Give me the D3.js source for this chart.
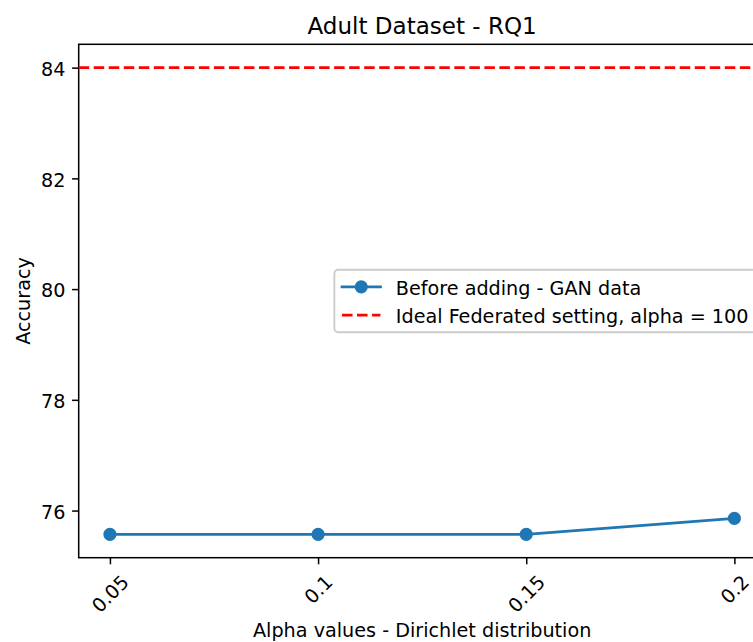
<!DOCTYPE html>
<html>
<head>
<meta charset="utf-8">
<script src="https://cdn.jsdelivr.net/npm/d3@7"></script>
<style>
  body { margin: 0; background: #fff; }
  svg { display: block; font-family: "DejaVu Sans", sans-serif; }
</style>
</head>
<body>
<svg width="753" height="642"></svg>
<script>
// values
const alphaLabels = ["0.05", "0.1", "0.15", "0.2"];
const beforeGan = [75.57, 75.57, 75.57, 75.86];
const idealAccuracy = 84;
const yTickValues = [76, 78, 80, 82, 84];
const seriesNames = ["Before adding - GAN data", "Ideal Federated setting, alpha = 100"];

const svg = d3.select("svg");
const pt = 1.89;                 // px per point in the picture
const fpt = 1.92;                // text renders a touch wider in the reference
const fs = 10 * fpt;             // tick / label font size
const plot = {left: 78.7, right: 765.6, top: 44.3, bottom: 557.7};

const x = d3.scalePoint()
    .domain(alphaLabels)
    .range([plot.left, plot.right])
    .padding(0.15);

// matplotlib style 5% margins around the data (incl. the ideal line)
const lo = d3.min(beforeGan.concat([idealAccuracy])),
    hi = d3.max(beforeGan.concat([idealAccuracy])),
    pad = (hi - lo) * 0.05;
const y = d3.scaleLinear()
    .domain([lo - pad, hi + pad])
    .range([plot.bottom, plot.top]);

// y axis
const yAxis = svg.append("g")
    .attr("transform", `translate(${plot.left},0)`)
    .call(d3.axisLeft(y).tickValues(yTickValues).tickFormat(d3.format("d"))
        .tickSize(3.5 * pt).tickPadding(3.5 * pt));
yAxis.select(".domain").remove();
yAxis.selectAll("line").attr("stroke", "#000").attr("stroke-width", 0.8 * pt);
yAxis.selectAll("text")
    .attr("font-family", "DejaVu Sans")
    .attr("font-size", fs)
    .attr("fill", "#000")
    .attr("dy", "0.4em");

// x axis
const xAxis = svg.append("g")
    .attr("transform", `translate(0,${plot.bottom})`)
    .call(d3.axisBottom(x).tickSize(3.5 * pt).tickPadding(0));
xAxis.select(".domain").remove();
xAxis.selectAll("line").attr("stroke", "#000").attr("stroke-width", 0.8 * pt);
xAxis.selectAll("text")
    .attr("font-family", "DejaVu Sans")
    .attr("font-size", fs)
    .attr("fill", "#000")
    .attr("y", null)
    .attr("dy", null)
    .attr("text-anchor", "middle")
    .attr("dominant-baseline", "central")
    .attr("transform", function () {
        const w = this.getComputedTextLength(), h = 1.164 * fs;
        const cy = 7 * pt + (w + h) * Math.SQRT1_2 / 2;
        return `translate(0,${cy}) rotate(-45)`;
    });

// frame
svg.append("rect")
    .attr("x", plot.left)
    .attr("y", plot.top)
    .attr("width", plot.right - plot.left)
    .attr("height", plot.bottom - plot.top)
    .attr("fill", "none")
    .attr("stroke", "#000")
    .attr("stroke-width", 0.8 * pt);

// ideal line
svg.append("line")
    .attr("x1", plot.left)
    .attr("x2", plot.right)
    .attr("y1", y(idealAccuracy))
    .attr("y2", y(idealAccuracy))
    .attr("stroke", "red")
    .attr("stroke-width", 1.5 * pt)
    .attr("stroke-dasharray", `${5.55 * pt},${2.4 * pt}`);

// series
const line = d3.line()
    .x((d, i) => x(alphaLabels[i]))
    .y(d => y(d));
svg.append("path")
    .datum(beforeGan)
    .attr("d", line)
    .attr("fill", "none")
    .attr("stroke", "#1f77b4")
    .attr("stroke-width", 1.5 * pt)
    .attr("stroke-linejoin", "round");
svg.append("g").selectAll("circle")
    .data(beforeGan)
    .join("circle")
    .attr("cx", (d, i) => x(alphaLabels[i]))
    .attr("cy", d => y(d))
    .attr("r", 3 * pt)
    .attr("fill", "#1f77b4")
    .attr("stroke", "#1f77b4")
    .attr("stroke-width", 1 * pt);

// title and axis labels
svg.append("text")
    .attr("x", (plot.left + plot.right) / 2)
    .attr("y", plot.top - 10.5)
    .attr("text-anchor", "middle")
    .attr("font-size", 12 * fpt)
    .text("Adult Dataset - RQ1");

svg.append("text")
    .attr("x", (plot.left + plot.right) / 2)
    .attr("y", 637)
    .attr("text-anchor", "middle")
    .attr("font-size", fs)
    .text("Alpha values - Dirichlet distribution");

svg.append("text")
    .attr("transform", `translate(30,${(plot.top + plot.bottom) / 2}) rotate(-90)`)
    .attr("text-anchor", "middle")
    .attr("font-size", fs)
    .text("Accuracy");

// legend, center right
const bp = 0.4 * fs, handleLen = 2 * fs, htp = 0.8 * fs, rowH = 10 * pt, ls = 0.5 * 10 * pt;
const legend = svg.append("g");
const labels = legend.selectAll("text")
    .data(seriesNames)
    .join("text")
    .attr("font-size", fs)
    .text(d => d);
let maxW = 0;
labels.each(function () { maxW = Math.max(maxW, this.getComputedTextLength()); });
const legW = 2 * bp + handleLen + htp + maxW,
    legH = 2 * (0.4 * 10 * pt) + 2 * rowH + ls;
const legX = plot.right - 0.5 * 10 * pt - legW,
    legY = (plot.top + plot.bottom) / 2 - legH / 2;
legend.insert("rect", "text")
    .attr("x", legX)
    .attr("y", legY)
    .attr("width", legW)
    .attr("height", legH)
    .attr("rx", 0.2 * fs)
    .attr("fill", "#fff")
    .attr("fill-opacity", 0.8)
    .attr("stroke", "#cccccc")
    .attr("stroke-width", 1 * pt);
const rowY = i => legY + 0.4 * 10 * pt + rowH / 2 + i * (rowH + ls);
labels
    .attr("x", legX + bp + handleLen + htp)
    .attr("y", (d, i) => rowY(i) + 8);
const hx0 = legX + bp, hx1 = hx0 + handleLen;
legend.append("line")
    .attr("x1", hx0).attr("x2", hx1)
    .attr("y1", rowY(0)).attr("y2", rowY(0))
    .attr("stroke", "#1f77b4")
    .attr("stroke-width", 1.5 * pt)
    .attr("stroke-linecap", "square");
legend.append("circle")
    .attr("cx", (hx0 + hx1) / 2)
    .attr("cy", rowY(0))
    .attr("r", 3 * pt)
    .attr("fill", "#1f77b4")
    .attr("stroke", "#1f77b4")
    .attr("stroke-width", 1 * pt);
legend.append("line")
    .attr("x1", hx0).attr("x2", hx1)
    .attr("y1", rowY(1)).attr("y2", rowY(1))
    .attr("stroke", "red")
    .attr("stroke-width", 1.5 * pt)
    .attr("stroke-dasharray", `${5.55 * pt},${2.4 * pt}`);
</script>
</body>
</html>
